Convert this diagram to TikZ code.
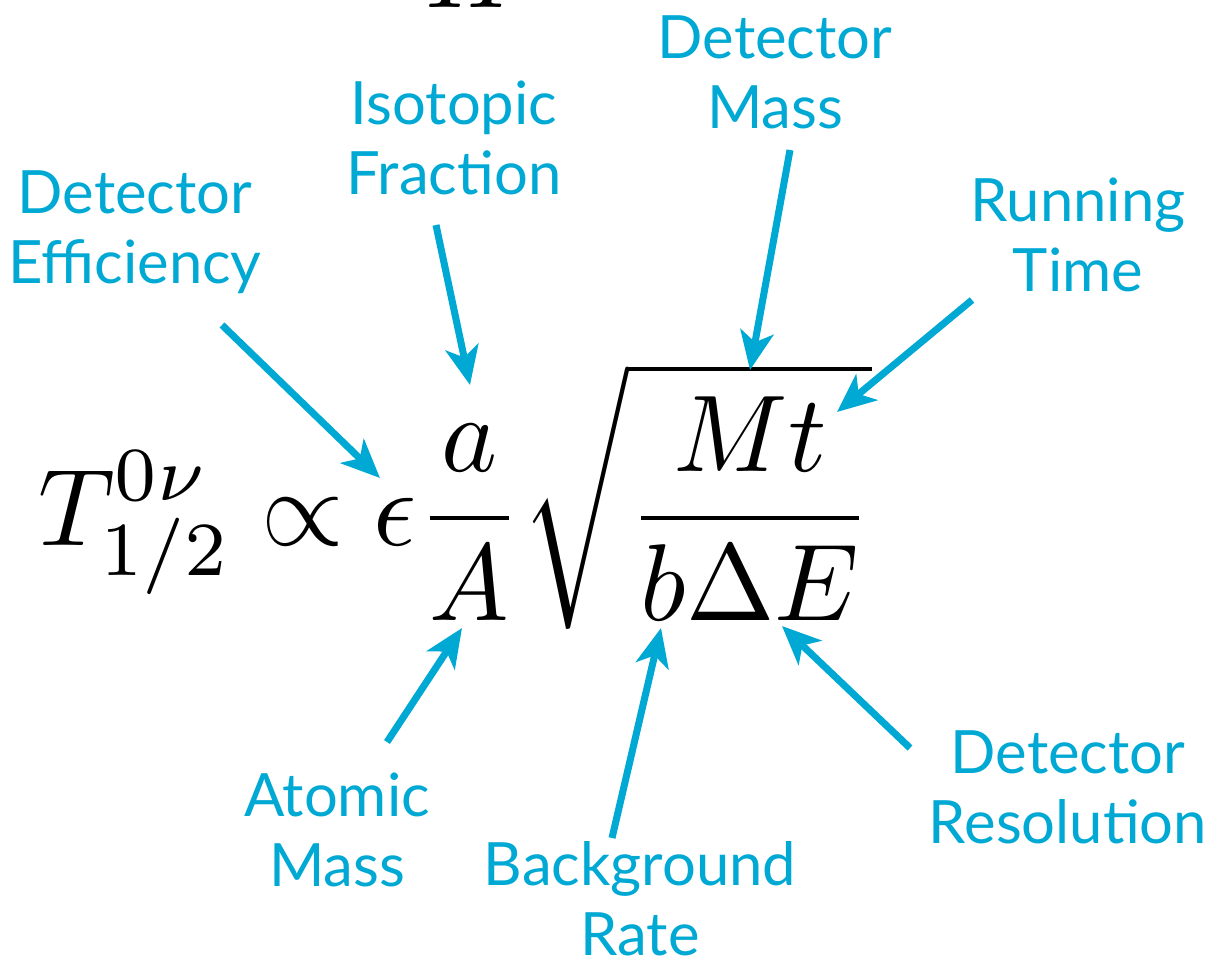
\documentclass[tikz,border=0pt]{standalone}
\usepackage{fontspec}
\setmainfont{Lato}
\usetikzlibrary{arrows.meta}
\definecolor{lblue}{RGB}{0,168,212}
\tikzset{
  lbl/.style={text=lblue, align=center, font=\fontsize{34}{40}\selectfont, inner sep=0pt},
  arr/.style={draw=lblue, line width=4pt, -{Stealth[length=22pt, width=19pt, inset=6pt]}},
}
\begin{document}
\begin{tikzpicture}[x=0.02cm, y=-0.02cm]
\clip (0,0) rectangle (1225,965);
\useasboundingbox (0,0) rectangle (1225,965);
% cut-off glyph at top
\node[anchor=base, inner sep=0pt, xscale=6.04, yscale=6.26] (topH) at (474,7) {$H$};
% formula
\node[anchor=west, inner sep=0pt, xscale=6.04, yscale=6.22] (eq) at (36,496)
  {$\displaystyle T^{0\nu}_{1/2}\propto\epsilon\frac{a}{A}\sqrt{\frac{Mt}{b\Delta E}}$};
% labels
\node[lbl] (eff) at (135,232) {Detector\\Efficiency};
\node[lbl] (iso) at (454,138) {Isotopic\\Fraction};
\node[lbl] (mass) at (775,72) {Detector\\Mass};
\node[lbl] (run) at (1078,235) {Running\\Time};
\node[lbl] (atom) at (337,830) {Atomic\\Mass};
\node[lbl] (bg) at (640,899) {Background\\Rate};
\node[lbl] (res) at (1068,787) {Detector\\Resolution};
% arrow ends
\coordinate (effA) at (222,325); \coordinate (effB) at (380,478);
\coordinate (isoA) at (436,225); \coordinate (isoB) at (470,385);
\coordinate (massA) at (790,150); \coordinate (massB) at (750,370);
\coordinate (runA) at (972,300); \coordinate (runB) at (837,412);
\coordinate (atomA) at (387,742); \coordinate (atomB) at (462,628);
\coordinate (bgA) at (612,838); \coordinate (bgB) at (661,628);
\coordinate (resA) at (910,748); \coordinate (resB) at (782,626);
\draw[arr] (effA) -- (effB);
\draw[arr] (isoA) -- (isoB);
\draw[arr] (massA) -- (massB);
\draw[arr] (runA) -- (runB);
\draw[arr] (atomA) -- (atomB);
\draw[arr] (bgA) -- (bgB);
\draw[arr] (resA) -- (resB);
\end{tikzpicture}
\end{document}
